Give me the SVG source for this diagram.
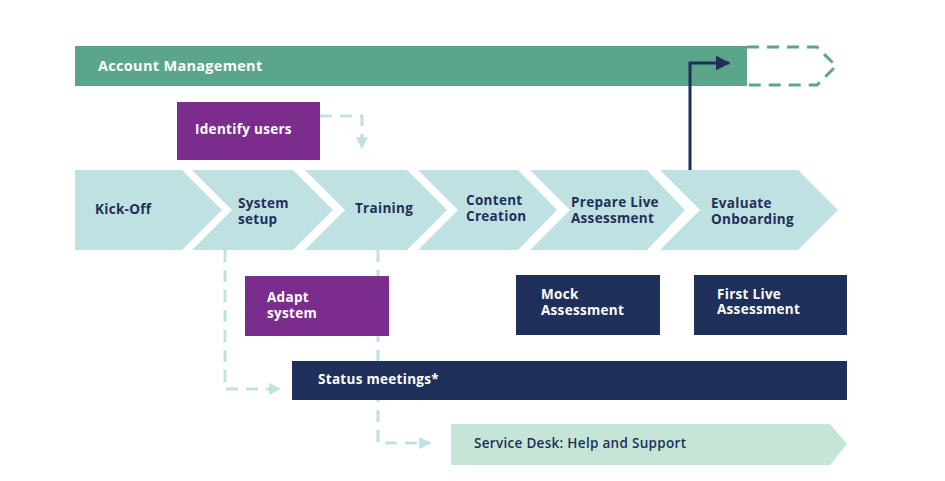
<svg xmlns="http://www.w3.org/2000/svg" width="945" height="481" viewBox="0 0 945 481">
<style>
text{font-family:"Open Sans","Liberation Sans",sans-serif;font-weight:bold;font-size:13.5px;letter-spacing:0.3px}
.w{fill:#fff}.d{fill:#1E2F5A}
.ch{fill:#BFE1E2}
.dash{fill:none;stroke:#BFE1E2;stroke-width:3;stroke-dasharray:12,8}
</style>
<defs>
<marker id="ta" viewBox="0 0 10 10" refX="9" refY="5" markerWidth="4" markerHeight="4" orient="auto" markerUnits="strokeWidth"><path d="M0,0L10,5L0,10z" fill="#BFE1E2"/></marker>
<marker id="na" viewBox="0 0 10 10" refX="9" refY="5" markerWidth="5" markerHeight="5" orient="auto" markerUnits="strokeWidth"><path d="M0,0L10,5L0,10z" fill="#1E2F5A"/></marker>
</defs>
<g id="account"><rect x="75" y="46" width="672" height="40" fill="#5BA68B"/><path d="M747,47H817L836,66L817,85H747" fill="none" stroke="#5BA68B" stroke-width="3" stroke-dasharray="12,8"/><text class="w" x="98" y="71" style="font-size:14.5px">Account Management</text></g>
<g id="connectors">
<path class="dash" d="M320,116H362V148" marker-end="url(#ta)"/>
<path class="dash" d="M225,250V389H280" marker-end="url(#ta)"/>
<path class="dash" d="M378,250V443H430" marker-end="url(#ta)"/>
<path d="M690,170V63H729" fill="none" stroke="#1E2F5A" stroke-width="3" marker-end="url(#na)"/>
</g>
<g id="kickoff"><path class="ch" d="M75,170H182L222,210L182,250H75z"/><text class="d" x="95" y="214">Kick-Off</text></g>
<g id="setup"><path class="ch" d="M192,170H293L333,210L293,250H192L232,210z"/><text class="d" x="238" y="208">System</text><text class="d" x="238" y="224">setup</text></g>
<g id="training"><path class="ch" d="M305,170H407L447,210L407,250H305L345,210z"/><text class="d" x="355" y="213">Training</text></g>
<g id="content"><path class="ch" d="M418,170H518L557,210L518,250H418L458,210z"/><text class="d" x="466" y="205">Content</text><text class="d" x="466" y="221">Creation</text></g>
<g id="prepare"><path class="ch" d="M530,170H647L685,210L647,250H530L570,210z"/><text class="d" x="571" y="207">Prepare Live</text><text class="d" x="571" y="223">Assessment</text></g>
<g id="evaluate"><path class="ch" d="M660,170H798L838,210L798,250H660L700,210z"/><text class="d" x="711" y="208">Evaluate</text><text class="d" x="711" y="224">Onboarding</text></g>
<g id="identify"><rect x="177" y="102" width="143" height="58" fill="#7B2D8E"/><text class="w" x="195" y="134">Identify users</text></g>
<g id="adapt"><rect x="245" y="276" width="144" height="60" fill="#7B2D8E"/><text class="w" x="267" y="302">Adapt</text><text class="w" x="267" y="318">system</text></g>
<g id="mock"><rect x="516" y="275" width="144" height="60" fill="#1E2F5A"/><text class="w" x="541" y="299">Mock</text><text class="w" x="541" y="315">Assessment</text></g>
<g id="firstlive"><rect x="694" y="275" width="153" height="60" fill="#1E2F5A"/><text class="w" x="717" y="299">First Live</text><text class="w" x="717" y="314">Assessment</text></g>
<g id="status"><rect x="292" y="361" width="555" height="39" fill="#1E2F5A"/><text class="w" x="318" y="384">Status meetings*</text></g>
<g id="servicedesk"><path d="M451,424H830L847,444L830,465H451z" fill="#C5E6D6"/><text class="d" x="474" y="448" style="font-weight:600">Service Desk: Help and Support</text></g>
</svg>
